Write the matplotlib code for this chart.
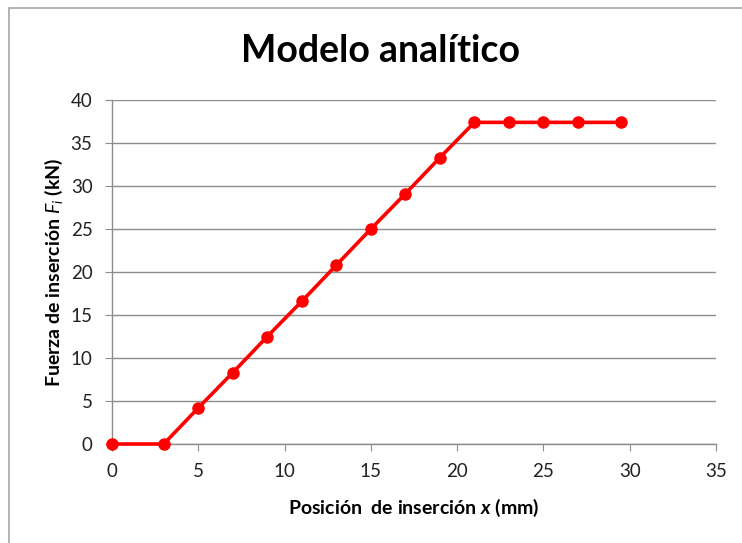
import matplotlib
matplotlib.use("Agg")
import matplotlib.pyplot as plt
from matplotlib.patches import Rectangle

x_mm = [0, 3, 5, 7, 9, 11, 13, 15, 17, 19, 21, 23, 25, 27, 29.5]
force_kN = [0, 0, 4.2, 8.3, 12.5, 16.6, 20.8, 25.0, 29.1, 33.3, 37.4, 37.4, 37.4, 37.4, 37.4]
x_ticks = [0, 5, 10, 15, 20, 25, 30, 35]
y_ticks = [0, 5, 10, 15, 20, 25, 30, 35, 40]

plt.rcParams['font.family'] = ['Lato', 'DejaVu Sans']
plt.rcParams['mathtext.fontset'] = 'custom'
plt.rcParams['mathtext.rm'] = 'Lato'
plt.rcParams['mathtext.it'] = 'Lato:italic'
plt.rcParams['mathtext.bf'] = 'Lato:bold'
plt.rcParams['mathtext.bfit'] = 'Lato:bold:italic'

W, H = 742, 543
fig = plt.figure(figsize=(W / 100, H / 100), dpi=100)
fig.patch.set_facecolor('white')

# chart border
fig.patches.append(Rectangle((9 / W, -0.01), 1.1, 1 - 8 / H + 0.01, transform=fig.transFigure,
                             fill=False, edgecolor='#a6a6a6', linewidth=1.2))

ax = fig.add_axes([112 / W, 1 - 444 / H, (716 - 112) / W, (444 - 100) / H])
ax.plot(x_mm, force_kN, color='#ff0000', linewidth=2.6, marker='o', markersize=8,
        markerfacecolor='#ff0000', markeredgecolor='#ff0000', clip_on=False, zorder=3)

ax.set_xlim(0, 35)
ax.set_ylim(0, 40)
ax.set_xticks(x_ticks)
ax.set_yticks(y_ticks)
ax.yaxis.grid(True, color='#8c8c8c', linewidth=1)
ax.set_axisbelow(True)
for s in ['top', 'right']:
    ax.spines[s].set_visible(False)
for s in ['left', 'bottom']:
    ax.spines[s].set_color('#8c8c8c')
    ax.spines[s].set_linewidth(1)
ax.tick_params(axis='both', direction='out', length=5, color='#8c8c8c', labelsize=13.5,
               labelcolor='#222222')
ax.tick_params(axis='x', pad=9)
ax.tick_params(axis='y', pad=9)

ax.set_xlabel('Posición  de inserción $\\boldsymbol{x}$ (mm)', fontsize=14, fontweight='bold', labelpad=12)
ax.set_ylabel('Fuerza de inserción $\\boldsymbol{F_i}$ (kN)', fontsize=14, fontweight='bold', labelpad=4)
fig.text(0.513, 1 - 51 / H, 'Modelo analítico', ha='center', va='center', fontsize=27, fontweight='bold')

fig.savefig('out.png', dpi=100)
